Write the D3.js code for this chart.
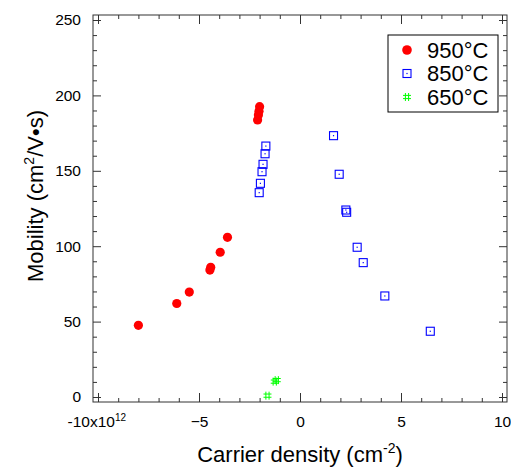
<!DOCTYPE html>
<html>
<head>
<meta charset="utf-8">
<script src="https://cdn.jsdelivr.net/npm/d3@7"></script>
<style>
  body { margin: 0; background: #fff; }
  svg { display: block; font-family: "Liberation Sans", Arial, Helvetica, sans-serif; }
</style>
</head>
<body>
<script>
const width = 511, height = 470;

// data (carrier density in 1e12 cm^-2, mobility in cm^2/Vs)
const series950 = [[-8.0, 47.5], [-6.1, 62], [-5.48, 69.6], [-4.46, 84.2], [-4.42, 86], [-3.95, 96], [-3.59, 105.9],
    [-2.1, 183.7], [-2.06, 187], [-2.03, 189.5], [-2.0, 192.5]];
const series850 = [[-2.02, 135.5], [-1.96, 141.7], [-1.88, 149.4], [-1.83, 154.3], [-1.73, 161.3], [-1.69, 166.4],
    [1.66, 173.3], [1.94, 147.7], [2.27, 124], [2.31, 122.5], [2.83, 99.3], [3.13, 89.1], [4.2, 67], [6.45, 43.6]];
const series650 = [[-1.61, 0.9], [-1.25, 10.2], [-1.15, 11.2]];
const legendLabels = ["950°C", "850°C", "650°C"];
const xTicks = [-10, -5, 0, 5, 10];
const yTicks = [0, 50, 100, 150, 200, 250];
const xMinorTicks = [-9, -8, -7, -6, -4, -3, -2, -1, 1, 2, 3, 4, 6, 7, 8, 9];
const yMinorTicks = [10, 20, 30, 40, 60, 70, 80, 90, 110, 120, 130, 140, 160, 170, 180, 190, 210, 220, 230, 240];

const frame = { left: 93, right: 507, top: 15, bottom: 402 };

const svg = d3.select("body").append("svg")
    .attr("width", width)
    .attr("height", height);

const xScale = d3.scaleLinear().domain([-10, 10]).range([98, 502]);
const yScale = d3.scaleLinear().domain([0, 250]).range([397, 20]);

const lineColor = "#333";

// axes: inward ticks on all four sides
function drawAxis(axis, tx, ty) {
    const g = svg.append("g")
        .attr("transform", "translate(" + tx + "," + ty + ")")
        .call(axis);
    g.select(".domain").remove();
    g.selectAll("line").attr("stroke", lineColor);
    return g;
}

const xAxis = drawAxis(d3.axisBottom(xScale).tickValues(xTicks).tickSize(-9).tickPadding(14), 0, frame.bottom);
drawAxis(d3.axisBottom(xScale).tickValues(xMinorTicks).tickSize(-4).tickFormat(""), 0, frame.bottom);
drawAxis(d3.axisTop(xScale).tickValues(xTicks).tickSize(-9).tickFormat(""), 0, frame.top);
drawAxis(d3.axisTop(xScale).tickValues(xMinorTicks).tickSize(-4).tickFormat(""), 0, frame.top);

const yAxis = drawAxis(d3.axisLeft(yScale).tickValues(yTicks).tickSize(-8).tickPadding(12), frame.left, 0);
drawAxis(d3.axisLeft(yScale).tickValues(yMinorTicks).tickSize(-4).tickFormat(""), frame.left, 0);
drawAxis(d3.axisRight(yScale).tickValues(yTicks).tickSize(-8).tickFormat(""), frame.right, 0);
drawAxis(d3.axisRight(yScale).tickValues(yMinorTicks).tickSize(-4).tickFormat(""), frame.right, 0);

xAxis.selectAll("text")
    .attr("font-size", 15.5)
    .attr("font-family", "Liberation Sans, Arial, sans-serif")
    .attr("fill", "#000")
    .each(function (d) {
        if (d === -10) {
            const t = d3.select(this).text("");
            t.append("tspan").text("-10x10");
            t.append("tspan").attr("font-size", 10).attr("dy", "-0.6em").text("12");
            t.attr("text-anchor", "start").attr("x", -31);
        }
    });
yAxis.selectAll("text")
    .attr("font-size", 15.5)
    .attr("font-family", "Liberation Sans, Arial, sans-serif")
    .attr("fill", "#000");

svg.append("rect")
    .attr("x", frame.left)
    .attr("y", frame.top)
    .attr("width", frame.right - frame.left)
    .attr("height", frame.bottom - frame.top)
    .attr("fill", "none")
    .attr("stroke", lineColor)
    .attr("stroke-width", 1);

// markers
const drawSquare = (g, x, y) => {
    g.append("rect").attr("x", x - 4).attr("y", y - 4).attr("width", 8).attr("height", 8)
        .attr("fill", "none").attr("stroke", "#0000ff").attr("stroke-width", 1.1);
    g.append("rect").attr("x", x - 0.6).attr("y", y - 0.6).attr("width", 1.2).attr("height", 1.2)
        .attr("fill", "#0000ff");
};
const hashPath = (x, y) =>
    "M" + (x - 1.6) + "," + (y - 4) + "V" + (y + 4) +
    "M" + (x + 1.6) + "," + (y - 4) + "V" + (y + 4) +
    "M" + (x - 4) + "," + (y - 1.6) + "H" + (x + 4) +
    "M" + (x - 4) + "," + (y + 1.6) + "H" + (x + 4);

const marks = svg.append("g");
marks.selectAll("circle.s950")
    .data(series950)
    .enter()
    .append("circle")
    .attr("class", "s950")
    .attr("cx", d => xScale(d[0]))
    .attr("cy", d => yScale(d[1]))
    .attr("r", 4.6)
    .attr("fill", "#ff0000");

series850.forEach(d => drawSquare(marks, xScale(d[0]), yScale(d[1])));

marks.selectAll("path.s650")
    .data(series650)
    .enter()
    .append("path")
    .attr("class", "s650")
    .attr("d", d => hashPath(xScale(d[0]), yScale(d[1])))
    .attr("fill", "none")
    .attr("stroke", "#00ff00")
    .attr("stroke-width", 1);

// legend
const legend = svg.append("g").attr("id", "legend");
legend.append("rect")
    .attr("x", 388).attr("y", 35)
    .attr("width", 110).attr("height", 77)
    .attr("fill", "#fff")
    .attr("stroke", "#000")
    .attr("stroke-width", 1);
const rowY = [50, 73.5, 97];
legend.append("circle").attr("cx", 407).attr("cy", rowY[0]).attr("r", 4.8).attr("fill", "#ff0000");
drawSquare(legend, 407, rowY[1]);
legend.append("path").attr("d", hashPath(407, rowY[2]))
    .attr("fill", "none").attr("stroke", "#00ff00").attr("stroke-width", 1);
legend.selectAll("text")
    .data(legendLabels)
    .enter()
    .append("text")
    .attr("x", 427)
    .attr("y", (d, i) => rowY[i])
    .attr("dy", "0.36em")
    .attr("font-size", 22)
    .text(d => d);

// axis titles
const xTitle = svg.append("text")
    .attr("x", 300)
    .attr("y", 462)
    .attr("text-anchor", "middle")
    .attr("font-size", 22);
xTitle.append("tspan").text("Carrier density (cm");
xTitle.append("tspan").attr("font-size", 14).attr("dy", "-0.65em").text("-2");
xTitle.append("tspan").attr("dy", "0.4em").text(")");

const yTitle = svg.append("text")
    .attr("transform", "translate(43,196) rotate(-90)")
    .attr("text-anchor", "middle")
    .attr("font-size", 22);
yTitle.append("tspan").text("Mobility (cm");
yTitle.append("tspan").attr("font-size", 14).attr("dy", "-0.65em").text("2");
yTitle.append("tspan").attr("dy", "0.4em").text("/V•s)");
</script>
</body>
</html>
